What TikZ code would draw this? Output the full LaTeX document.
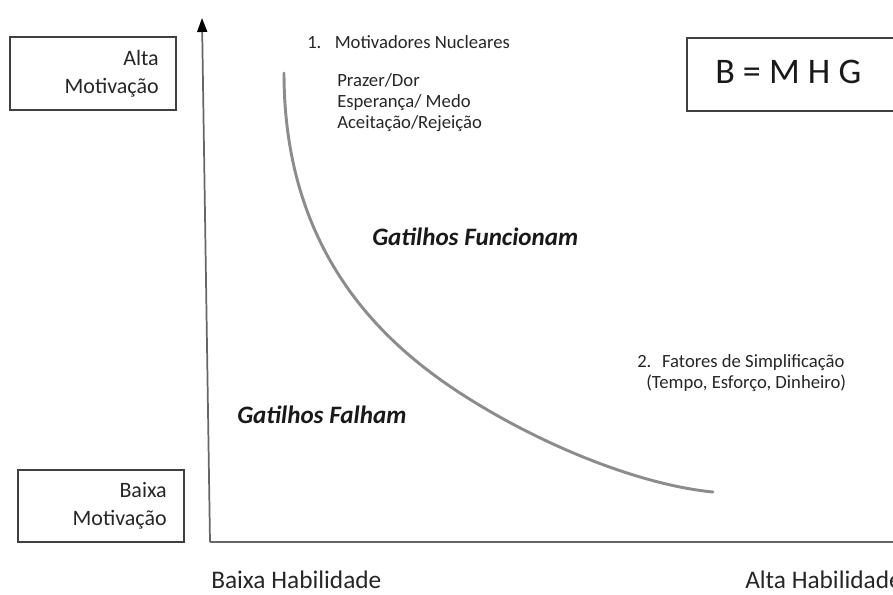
\documentclass[tikz,border=0pt]{standalone}
\usepackage{fontspec}
\setmainfont{Carlito}
\usetikzlibrary{arrows.meta}

\tikzset{
  caixa/.style={draw=black!75, line width=1.1pt, inner sep=0pt},
  rotulo/.style={text=black!85, inner sep=0pt, font=\fontsize{16.5}{21}\selectfont},
  lista/.style={text=black!85, inner sep=0pt, align=left, font=\fontsize{14}{15.4}\selectfont},
  zona/.style={text=black!90, inner sep=0pt, font=\fontsize{18.8}{22}\selectfont\bfseries\itshape},
  eixo/.style={draw=black!60, line width=1.3pt},
  curva/.style={draw=black!45, line width=2.2pt, line cap=round}
}

\begin{document}
\begin{tikzpicture}[x=0.75pt, y=-0.75pt]
  \useasboundingbox (0,0) rectangle (893,594);

  % caixas de motivacao
  \node [caixa, minimum width=124.5pt, minimum height=54.75pt] (altabox) at (93,73.5) {};
  \node [rotulo, anchor=base east, align=right] (alta) at (159,93) {Alta\\Motivação};
  \node [caixa, minimum width=124.5pt, minimum height=54pt] (baixabox) at (101,506) {};
  \node [rotulo, anchor=base east, align=right] (baixa) at (167,525) {Baixa\\Motivação};

  % eixos
  \coordinate (origem) at (210,542);
  \coordinate (topo) at (202,18);
  \coordinate (fim) at (900,542);
  \draw [eixo, -{Triangle[length=10.5pt, width=7.5pt, color=black]}] (origem) -- (topo);
  \draw [eixo] (origem) -- (fim);

  % curva de acao
  \coordinate (c0) at (284,73);
  \coordinate (c1) at (460,393);
  \coordinate (c2) at (713,492);
  \draw [curva] (c0) .. controls (284,250) and (380,341) .. (c1)
                     .. controls (540,445) and (640,485) .. (c2);

  % formula
  \node [caixa, minimum width=156pt, minimum height=54.75pt] (formulabox) at (791,74.5) {};
  \node [anchor=base west, inner sep=0pt, text=black!90, font=\fontsize{27}{30}\selectfont] (formula) at (715,83) {B = M H G};

  % textos
  \node [lista, anchor=base west] (item1) at (307,48) {1.\hspace{10pt}Motivadores Nucleares};
  \node [lista, anchor=base west] (nucleares) at (337,128) {Prazer/Dor\\Esperança/ Medo\\Aceitação/Rejeição};
  \node [zona, anchor=base west] (funcionam) at (372,245) {Gatilhos Funcionam};
  \node [zona, anchor=base west] (falham) at (237,423) {Gatilhos Falham};
  \node [lista, anchor=base west] (item2) at (637,367) {2.\hspace{8pt}Fatores de Simplificação};
  \node [lista, anchor=base west] (custos) at (646,388) {(Tempo, Esforço, Dinheiro)};
  \node [rotulo, anchor=base west, font=\fontsize{19}{22}\selectfont] (baixahab) at (211,588) {Baixa Habilidade};
  \node [rotulo, anchor=base west, font=\fontsize{19}{22}\selectfont] (altahab) at (745,588) {Alta Habilidade};
\end{tikzpicture}
\end{document}
